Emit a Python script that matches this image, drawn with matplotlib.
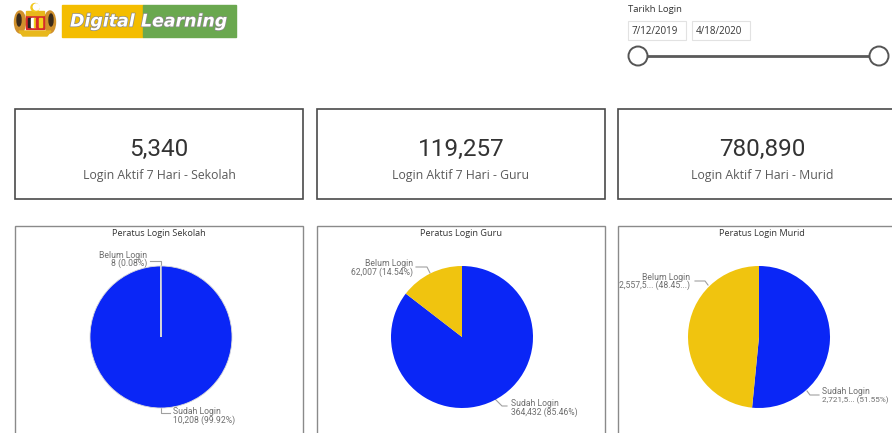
import numpy as np
import matplotlib
matplotlib.use("Agg")
import matplotlib.pyplot as plt
import matplotlib.patheffects as pe
from matplotlib.patches import Rectangle, Circle, Ellipse, Polygon

# ---------------- data ----------------
card_values = ["5,340", "119,257", "780,890"]
card_labels = ["Login Aktif 7 Hari - Sekolah", "Login Aktif 7 Hari - Guru", "Login Aktif 7 Hari - Murid"]

pie_titles = ["Peratus Login Sekolah", "Peratus Login Guru", "Peratus Login Murid"]
slice_names = ["Sudah Login", "Belum Login"]
sekolah_values = [10208, 8]
guru_values = [364432, 62007]
murid_values = [2721500, 2557500]
sekolah_texts = ["10,208 (99.92%)", "8 (0.08%)"]
guru_texts = ["364,432 (85.46%)", "62,007 (14.54%)"]
murid_texts = ["2,721,5... (51.55%)", "2,557,5... (48.45...)"]

date_start = "7/12/2019"
date_end = "4/18/2020"

BLUE = "#0a26f6"
YELLOW = "#f0c40f"

W, H = 892, 433
fig = plt.figure(figsize=(W / 100, H / 100), dpi=100)
fig.patch.set_facecolor("white")
ax = fig.add_axes([0, 0, 1, 1])
ax.set_xlim(0, W)
ax.set_ylim(H, 0)
ax.axis("off")

TXT = "Open Sans"
NUM = "Roboto"
LBLF = "Roboto"

# ---------------- logo ----------------
cx = 35
# tigers
ax.add_patch(Ellipse((cx - 15, 22), 11, 22, color="#d0902c", zorder=2))
ax.add_patch(Ellipse((cx + 15, 22), 11, 22, color="#d0902c", zorder=2))
ax.add_patch(Ellipse((cx - 16, 20), 4, 12, color="#3a2a1a", zorder=3))
ax.add_patch(Ellipse((cx + 16, 20), 4, 12, color="#3a2a1a", zorder=3))
# shield
ax.add_patch(Rectangle((cx - 9, 14), 18, 15, color="#d62a2a", zorder=3))
for i, c in enumerate(["#222222", "#ffffff", "#f2d21c", "#d62a2a", "#f2d21c"]):
    ax.add_patch(Rectangle((cx - 7 + i * 2.8, 17.5), 2.8, 9, color=c, zorder=4))
ax.add_patch(Rectangle((cx - 9, 11), 18, 3.5, color="#e8b81c", zorder=3))
# crescent and star
ax.add_patch(Circle((cx, 7.5), 4, color="#f2c81c", zorder=3))
ax.add_patch(Circle((cx + 1.3, 7), 3, color="white", zorder=4))
# ribbon
ax.add_patch(Polygon([[cx - 16, 31], [cx + 16, 31], [cx + 12, 36], [cx - 12, 36]],
                     closed=True, color="#e8b81c", zorder=3))

# digital learning banner
ax.add_patch(Rectangle((62, 5), 81, 32, color="#f4bd00", zorder=2))
ax.add_patch(Rectangle((143, 5), 93, 32, color="#6aa84f", zorder=2))
shadow = [pe.withStroke(linewidth=1.0, foreground="#8a8a8a")]
ax.text(70, 21.5, "Digital", color="white", fontsize=12.5, fontweight="bold",
        fontstyle="italic", family="DejaVu Sans", va="center", ha="left", zorder=5,
        path_effects=shadow)
ax.text(141, 21.5, "Learning", color="white", fontsize=12.5, fontweight="bold",
        fontstyle="italic", family="DejaVu Sans", va="center", ha="left", zorder=5,
        path_effects=shadow)

# ---------------- date slicer ----------------
ax.text(628, 10, "Tarikh Login", fontsize=6.8, color="#333333", family=TXT, va="center")
ax.add_patch(Rectangle((628, 21), 58, 19, facecolor="white", edgecolor="#e2e2e2", lw=0.8))
ax.add_patch(Rectangle((692, 21), 58, 19, facecolor="white", edgecolor="#e2e2e2", lw=0.8))
ax.text(632, 31, date_start, fontsize=7, color="#333333", family=TXT, va="center")
ax.text(696, 31, date_end, fontsize=7, color="#333333", family=TXT, va="center")
ax.plot([638, 879], [56, 56], color="#5a5a5a", lw=2, zorder=3, solid_capstyle="butt")
for x in (638, 879):
    ax.add_patch(Circle((x, 56), 9.5, facecolor="white", edgecolor="#555555", lw=1.4, zorder=4))

# ---------------- cards ----------------
card_x = [15, 317, 618]
card_w = 288
for i in range(3):
    ax.add_patch(Rectangle((card_x[i], 109), card_w, 90, facecolor="white",
                           edgecolor="#4a4a4a", lw=1.2))
    ccx = card_x[i] + card_w / 2
    ax.text(ccx, 149, card_values[i], fontsize=17.5, color="#333333", family=NUM,
            ha="center", va="center")
    ax.text(ccx, 175, card_labels[i], fontsize=8.8, color="#5a5a5a", family=TXT,
            ha="center", va="center")

# ---------------- pie panels ----------------
for i in range(3):
    ax.add_patch(Rectangle((card_x[i], 226), card_w, 230, facecolor="white",
                           edgecolor="#8a8a8a", lw=1.0))
    ax.text(card_x[i] + card_w / 2, 233, pie_titles[i], fontsize=6.6, color="#333333",
            family=TXT, ha="center", va="center")

pie_centers = [(161, 337), (462, 337), (759, 337)]
R = 71
all_vals = [sekolah_values, guru_values, murid_values]
all_txts = [sekolah_texts, guru_texts, murid_texts]

for i in range(3):
    pcx, pcy = pie_centers[i]
    pax = fig.add_axes([(pcx - R) / W, (H - pcy - R) / H, 2 * R / W, 2 * R / H])
    pax.set_facecolor("none")
    pax.pie(all_vals[i], colors=[BLUE, YELLOW], startangle=90, counterclock=False,
            radius=1, wedgeprops=dict(edgecolor="#d9d9d9" if i == 0 else "none", linewidth=0.6))
    pax.set_xlim(-1, 1)
    pax.set_ylim(-1, 1)
    pax.set_aspect("auto")
    pax.axis("off")

# leader lines and labels
LBL = "#6e6e6e"
LINE = "#a0a0a0"
lfs = 6.2
# Sekolah
ax.plot([150, 161, 161], [261, 261, 266], color=LINE, lw=0.8)
ax.text(147, 255, slice_names[1], fontsize=lfs, color=LBL, family=LBLF, ha="right", va="center")
ax.text(147, 263.5, all_txts[0][1], fontsize=lfs, color=LBL, family=LBLF, ha="right", va="center")
ax.plot([161, 161, 170], [408, 413, 413], color=LINE, lw=0.8)
ax.text(173, 411, slice_names[0], fontsize=lfs, color=LBL, family=LBLF, ha="left", va="center")
ax.text(173, 420, all_txts[0][0], fontsize=lfs, color=LBL, family=LBLF, ha="left", va="center")
# Guru
ax.plot([416, 427, 430], [267, 267, 273], color=LINE, lw=0.8)
ax.text(413, 263, slice_names[1], fontsize=lfs, color=LBL, family=LBLF, ha="right", va="center")
ax.text(413, 272, all_txts[1][1], fontsize=lfs, color=LBL, family=LBLF, ha="right", va="center")
ax.plot([495, 502, 507], [399, 406, 406], color=LINE, lw=0.8)
ax.text(511, 403, slice_names[0], fontsize=lfs, color=LBL, family=LBLF, ha="left", va="center")
ax.text(511, 412, all_txts[1][0], fontsize=lfs, color=LBL, family=LBLF, ha="left", va="center")
# Murid
ax.plot([695, 705, 708], [281, 281, 285], color=LINE, lw=0.8)
ax.text(690, 277, slice_names[1], fontsize=lfs, color=LBL, family=LBLF, ha="right", va="center")
ax.text(690, 285.5, all_txts[2][1], fontsize=lfs, color=LBL, family=LBLF, ha="right", va="center")
ax.plot([807, 810, 819], [391, 395, 395], color=LINE, lw=0.8)
ax.text(822, 392, slice_names[0], fontsize=lfs, color=LBL, family=LBLF, ha="left", va="center")
ax.text(822, 400.5, all_txts[2][0], fontsize=5.9, color=LBL, family=LBLF, ha="left", va="center")

fig.savefig("out.png", dpi=100, facecolor="white")
